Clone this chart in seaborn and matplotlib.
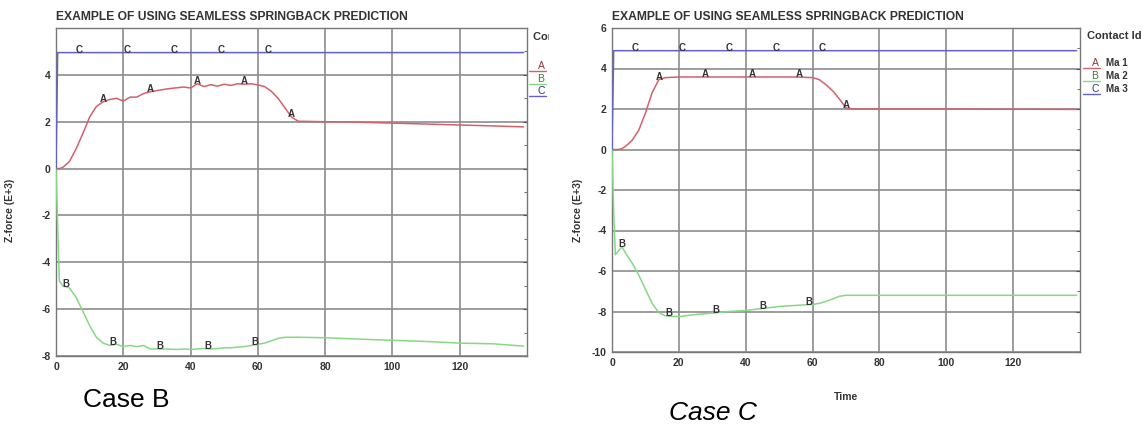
import numpy as np
import pandas as pd
import matplotlib
matplotlib.use('Agg')
import matplotlib.pyplot as plt
from matplotlib.lines import Line2D
from matplotlib.transforms import Bbox, TransformedBbox
import seaborn as sns

# ---- data ----
# Case B
time_b = [0, 0.5, 1, 2, 4, 6, 8, 10, 12, 14, 16, 18, 20, 22, 24, 26, 28, 30, 33, 36, 38, 40,
          42, 44, 46, 48, 50, 52, 54, 56, 58, 60, 62, 64, 66, 68, 70, 72, 80, 90, 100, 110,
          120, 130, 139]
a_b = [0, 0, 0, 0.05, 0.3, 0.85, 1.5, 2.2, 2.65, 2.85, 2.95, 3.0, 2.88, 3.05, 3.05, 3.2, 3.28,
       3.33, 3.4, 3.45, 3.48, 3.44, 3.62, 3.5, 3.58, 3.52, 3.6, 3.55, 3.62, 3.6, 3.62, 3.57,
       3.5, 3.3, 3.0, 2.6, 2.2, 2.02, 2.0, 1.98, 1.94, 1.9, 1.86, 1.82, 1.78]
b_b = [0, -2.5, -4.8, -5.0, -5.1, -5.5, -6.1, -6.7, -7.2, -7.45, -7.55, -7.5, -7.6, -7.55,
       -7.6, -7.55, -7.7, -7.7, -7.7, -7.72, -7.7, -7.72, -7.7, -7.68, -7.7, -7.68, -7.65,
       -7.65, -7.62, -7.6, -7.55, -7.5, -7.45, -7.35, -7.25, -7.2, -7.2, -7.2, -7.22, -7.28,
       -7.33, -7.38, -7.45, -7.48, -7.58]
c_b = [0] + [4.95] * 44

# Case C
time_c = [0, 0.5, 1, 2, 3, 4, 6, 8, 10, 12, 14, 16, 20, 25, 30, 35, 40, 45, 50, 55, 60, 62,
          64, 66, 68, 70, 72, 80, 100, 120, 139]
a_c = [0, 0, 0, 0, 0.05, 0.15, 0.45, 0.95, 1.8, 2.8, 3.45, 3.55, 3.58, 3.58, 3.58, 3.58,
       3.58, 3.58, 3.58, 3.58, 3.55, 3.45, 3.2, 2.9, 2.5, 2.05, 2.0, 2.0, 2.0, 1.99, 1.98]
b_c = [0, -3.0, -5.2, -5.0, -4.8, -5.1, -5.6, -6.2, -6.9, -7.6, -8.05, -8.22, -8.25, -8.15,
       -8.08, -8.0, -7.95, -7.85, -7.75, -7.7, -7.65, -7.6, -7.5, -7.38, -7.25, -7.2, -7.2,
       -7.2, -7.2, -7.2, -7.2]
c_c = [0] + [4.88] * 30

series = ['A', 'B', 'C']
series_names = ['Ma 1', 'Ma 2', 'Ma 3']
colors = {'A': '#d4606c', 'B': '#86d886', 'C': '#6262c8'}
legend_letter_colors = {'A': '#8a3a40', 'B': '#3f7a3f', 'C': '#333366'}
label_times = {'A': [14, 28, 42, 56, 70], 'B': [3, 17, 31, 45, 59], 'C': [7, 21, 35, 49, 63]}
title = 'EXAMPLE OF USING SEAMLESS SPRINGBACK PREDICTION'

sns.set_style('white')
plt.rcParams['font.family'] = ['Liberation Sans', 'DejaVu Sans']
plt.rcParams['axes.unicode_minus'] = False

fig = plt.figure(figsize=(11.46, 4.25), dpi=100)
W, H = 1146, 425


def frame(px_left, px_top, px_right, px_bottom):
    return fig.add_axes([px_left / W, 1 - px_bottom / H, (px_right - px_left) / W,
                         (px_bottom - px_top) / H])


def draw_case(ax, t, vals, ylim, yticks):
    df = pd.DataFrame({'Time': t, 'A': vals[0], 'B': vals[1], 'C': vals[2]})
    long = df.melt(id_vars='Time', var_name='Contact', value_name='Z')
    sns.lineplot(data=long, x='Time', y='Z', hue='Contact', palette=colors, estimator=None,
                 sort=False, lw=1.1, legend=False, ax=ax, zorder=3)
    for s, v in zip(series, vals):
        for lt in label_times[s]:
            ax.annotate(s, (lt, np.interp(lt, t, v)), xytext=(0, 2), textcoords='offset points',
                        ha='center', va='center', fontsize=7, fontweight='bold',
                        color='#333333', zorder=4)
    ax.set_xlim(0, 140)
    ax.set_ylim(*ylim)
    ax.set_xticks([0, 20, 40, 60, 80, 100, 120])
    ax.set_xticks(np.arange(10, 140, 20), minor=True)
    ax.set_yticks(yticks)
    ax.set_yticks(np.arange(ylim[0] + 1, ylim[1], 2), minor=True)
    ax.grid(True, which='major', color='#8c8c8c', lw=1.2)
    ax.tick_params(which='both', direction='in', length=3, right=True, color='#555555',
                   labelsize=7.5, pad=4)
    ax.tick_params(which='minor', length=2)
    for lab in ax.get_xticklabels() + ax.get_yticklabels():
        lab.set_fontweight('bold')
        lab.set_color('#333333')
    for sp in ax.spines.values():
        sp.set_color('#777777')
        sp.set_linewidth(1.0)
    ax.set_xlabel('')
    ax.set_ylabel('Z-force (E+3)', fontsize=7.5, fontweight='bold', color='#333333')
    ax.text(0, 1.035, title, transform=ax.transAxes, fontsize=8.7, fontweight='bold',
            color='#333333', ha='left', va='center')


# Case B
ax1 = frame(56, 28, 527, 356)
draw_case(ax1, time_b, [a_b, b_b, c_b], (-8, 6), [-8, -6, -4, -2, 0, 2, 4])
ax1.yaxis.set_label_coords(-0.087, 0.445)

# Case C
ax2 = frame(612, 28, 1080, 352)
draw_case(ax2, time_c, [a_c, b_c, c_c], (-10, 6), [-10, -8, -6, -4, -2, 0, 2, 4, 6])
ax2.yaxis.set_label_coords(-0.062, 0.438)
ax2.set_xlabel('Time', fontsize=7.5, fontweight='bold', color='#333333')
ax2.xaxis.set_label_coords(0.5, -0.123)


# legends drawn as text, the one of Case B is cut off like in the picture
def legend(x0, ys, title_y, clip_x=None):
    items = [fig.text(x0 / W, 1 - title_y / H, 'Contact Id', fontsize=8, fontweight='bold',
                      color='#333333', va='center')]
    for s, name, y in zip(series, series_names, ys):
        items.append(fig.text((x0 + 8) / W, 1 - y / H, s, fontsize=7.5,
                              color=legend_letter_colors[s], va='center', ha='center'))
        items.append(fig.text((x0 + 19) / W, 1 - y / H, name, fontsize=7, fontweight='bold',
                              color='#333333', va='center'))
        items.append(Line2D([(x0 - 4) / W, (x0 + 13) / W], [1 - (y + 4.5) / H] * 2,
                            transform=fig.transFigure, color=colors[s], lw=1))
        fig.add_artist(items[-1])
    if clip_x is not None:
        box = TransformedBbox(Bbox([[0, 0], [clip_x / W, 1]]), fig.transFigure)
        for it in items:
            it.set_clip_box(box)
            it.set_clip_on(True)


legend(533, [66, 79, 91], 37, clip_x=549)
legend(1087, [63, 76, 89], 36)

fig.text(83 / W, 1 - 400 / H, 'Case B', fontsize=19, color='black', va='center')
fig.text(669 / W, 1 - 413 / H, 'Case C', fontsize=19, style='italic', color='black',
         va='center')

fig.savefig('out.png', dpi=100, facecolor='white')
